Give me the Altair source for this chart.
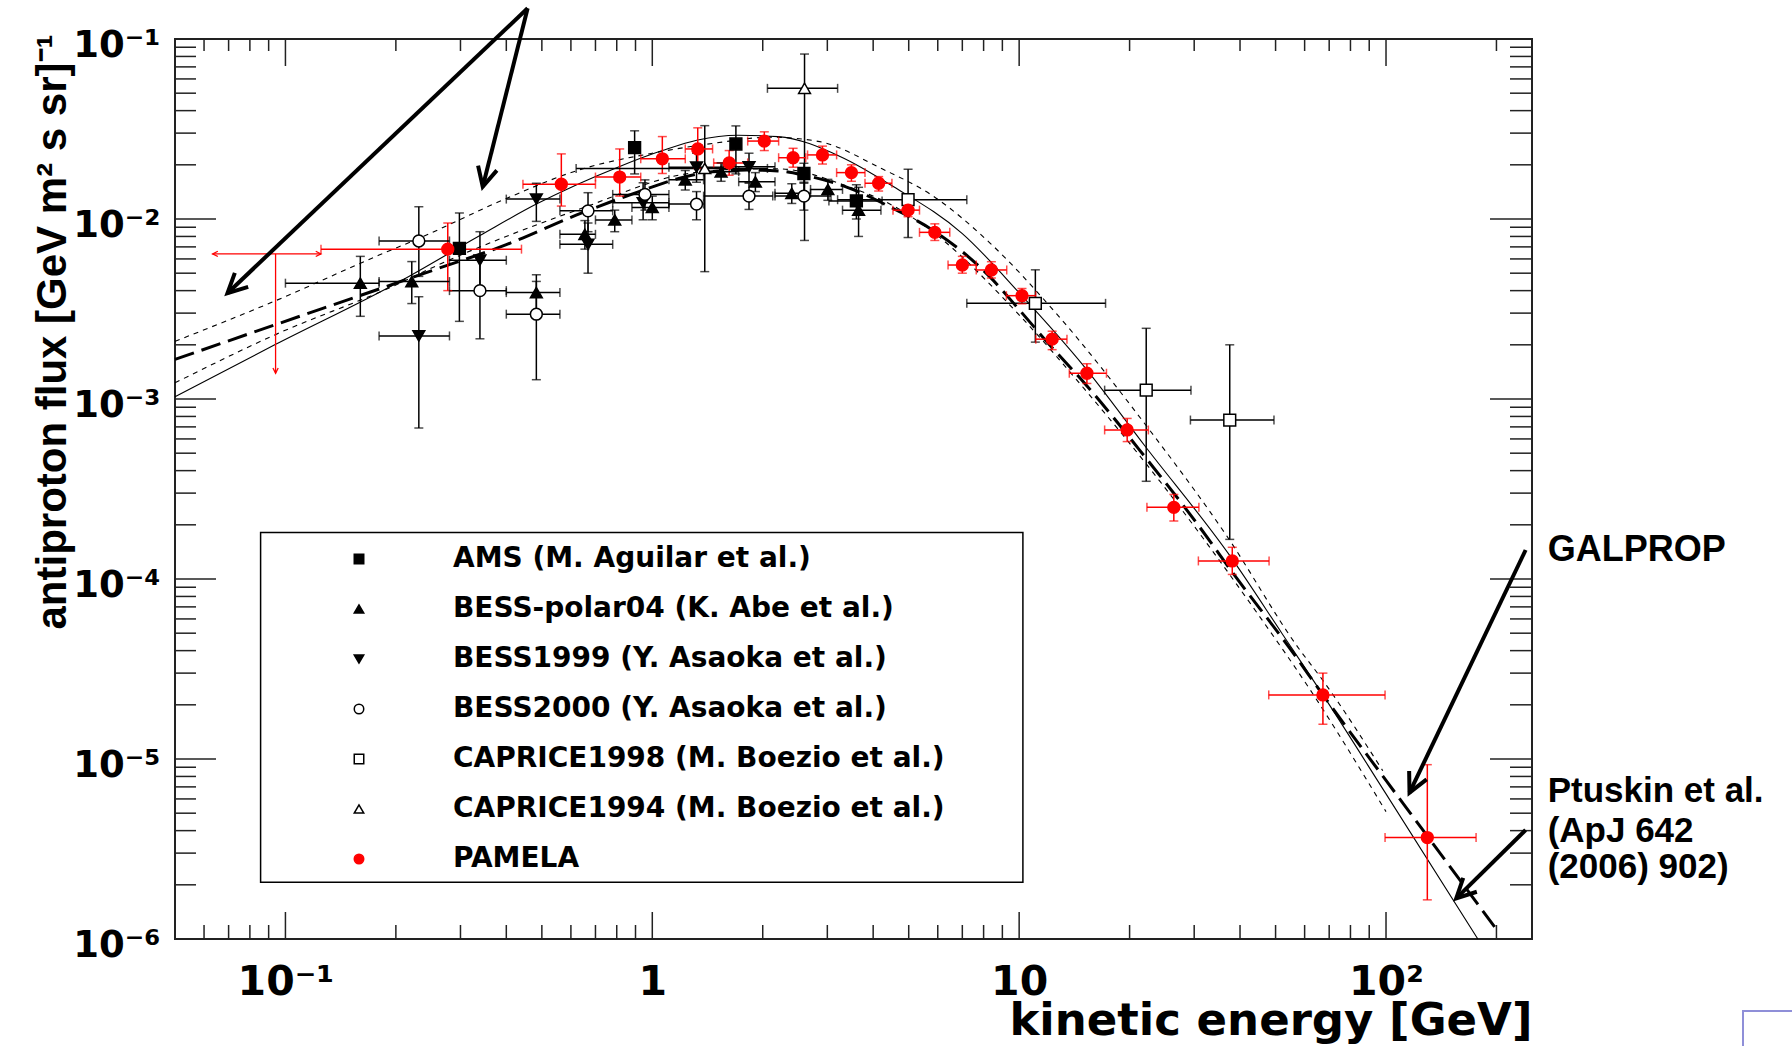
import math
import altair as alt
import pandas as pd

W, H = 1357, 900
E_DOMAIN = [0.05, 250]
F_DOMAIN = [1e-6, 1e-1]

# ---------------- data series ----------------
SERIES = ["AMS (M. Aguilar et al.)", "BESS-polar04 (K. Abe et al.)", "BESS1999 (Y. Asaoka et al.)",
          "BESS2000 (Y. Asaoka et al.)", "CAPRICE1998 (M. Boezio et al.)", "CAPRICE1994 (M. Boezio et al.)",
          "PAMELA"]
SHAPES = ["square", "triangle-up", "triangle-down", "circle", "square", "triangle-up", "circle"]
FILLS = ["black", "black", "black", "white", "white", "white", "#ff0000"]
STROKES = ["black", "black", "black", "black", "black", "black", "#ff0000"]

AMS_E = [0.298, 0.895, 1.69, 2.59, 3.6]
AMS_F = [0.00687, 0.0249, 0.0261, 0.0179, 0.0126]
AMS_FLO = [0.0027, 0.0178, 0.0178, 0.0158, 0.0100]
AMS_FHI = [0.0108, 0.0309, 0.0329, 0.0204, 0.0155]
AMS_ELO = [0.298, 0.895, 1.69, 2.59, 3.03]
AMS_EHI = [0.298, 0.895, 1.69, 2.59, 4.23]

BP04_E = [0.160, 0.221, 0.483, 0.655, 0.79, 1.0, 1.23, 1.54, 1.91, 2.40, 3.01, 3.65]
BP04_F = [0.0044, 0.00449, 0.0039, 0.00822, 0.00988, 0.0116, 0.0165, 0.0183, 0.0161, 0.0139, 0.0146, 0.0112]
BP04_FLO = [0.00288, 0.00339, 0.0031, 0.0068, 0.0085, 0.0099, 0.0145, 0.0162, 0.0142, 0.0122, 0.0127, 0.0080]
BP04_FHI = [0.0062, 0.0058, 0.0049, 0.0098, 0.0112, 0.0134, 0.0186, 0.0205, 0.0181, 0.0157, 0.0166, 0.0150]
BP04_ELO = [0.10, 0.18, 0.40, 0.56, 0.70, 0.88, 1.11, 1.38, 1.72, 2.16, 2.70, 3.30]
BP04_EHI = [0.18, 0.28, 0.56, 0.70, 0.88, 1.11, 1.38, 1.72, 2.16, 2.70, 3.30, 4.20]

B99_E = [0.231, 0.339, 0.483, 0.668, 0.944, 1.32, 1.835]
B99_F = [0.00224, 0.0059, 0.0129, 0.00723, 0.0123, 0.0194, 0.0195]
B99_FLO = [0.00069, 0.0041, 0.0097, 0.0050, 0.0099, 0.0160, 0.0160]
B99_FHI = [0.0037, 0.0085, 0.0158, 0.0095, 0.0159, 0.0232, 0.0232]
B99_ELO = [0.18, 0.28, 0.40, 0.56, 0.78, 1.11, 1.56]
B99_EHI = [0.28, 0.40, 0.56, 0.78, 1.11, 1.56, 2.16]

B00_E = [0.231, 0.339, 0.483, 0.668, 0.955, 1.32, 1.835, 2.59]
B00_F = [0.00755, 0.0040, 0.00296, 0.0111, 0.0137, 0.0121, 0.0134, 0.0134]
B00_FLO = [0.0048, 0.00216, 0.00128, 0.0085, 0.0112, 0.0099, 0.0113, 0.0112]
B00_FHI = [0.0117, 0.0060, 0.0045, 0.0140, 0.0165, 0.0142, 0.0158, 0.0160]
B00_ELO = [0.18, 0.28, 0.40, 0.56, 0.78, 1.11, 1.38, 2.16]
B00_EHI = [0.28, 0.40, 0.56, 0.78, 1.11, 1.38, 2.13, 3.07]

C98_E = [4.98, 11.07, 22.2, 37.5]
C98_F = [0.0128, 0.0034, 0.00112, 0.000764]
C98_FLO = [0.00789, 0.00207, 0.000349, 0.000166]
C98_FHI = [0.0189, 0.00522, 0.00247, 0.0020]
C98_ELO = [3.2, 7.2, 17.1, 29.3]
C98_EHI = [7.2, 17.2, 29.4, 49.5]

C94_E = [1.39, 2.6]
C94_F = [0.0191, 0.0532]
C94_FLO = [0.0051, 0.0076]
C94_FHI = [0.033, 0.0825]
C94_ELO = [0.62, 2.06]
C94_EHI = [2.06, 3.2]

PAM_E = [0.277, 0.565, 0.815, 1.065, 1.33, 1.62, 2.02, 2.42, 2.91, 3.49, 4.14, 4.98, 5.89, 7.0, 8.40,
         10.18, 12.3, 15.3, 19.7, 26.4, 38.1, 67.3, 129.6]
PAM_F = [0.0068, 0.0156, 0.0171, 0.0216, 0.0245, 0.0205, 0.0271, 0.0219, 0.0227, 0.0181, 0.0158, 0.0112,
         0.00843, 0.00555, 0.00521, 0.00375, 0.00215, 0.00139, 0.000673, 0.00025, 0.000126, 2.27e-5, 3.66e-6]
PAM_FLO = [0.0040, 0.0118, 0.0134, 0.0179, 0.0191, 0.0175, 0.0240, 0.0194, 0.0202, 0.0162, 0.0143, 0.0103,
           0.0076, 0.0050, 0.00470, 0.00338, 0.00188, 0.00122, 0.00058, 0.00021, 0.000106, 1.56e-5, 1.65e-6]
PAM_FHI = [0.0095, 0.0230, 0.0245, 0.0287, 0.0321, 0.0240, 0.0305, 0.0247, 0.0254, 0.0200, 0.0172, 0.0121,
           0.0094, 0.0062, 0.00579, 0.00411, 0.00238, 0.00157, 0.00078, 0.000295, 0.000150, 3.0e-5, 9.3e-6]
PAM_ELO = [0.125, 0.444, 0.70, 0.93, 1.23, 1.47, 1.82, 2.21, 2.65, 3.18, 3.8, 4.53, 5.35, 6.4, 7.64,
           9.23, 11.1, 13.7, 17.1, 22.3, 30.8, 47.9, 99.4]
PAM_EHI = [0.44, 0.70, 0.93, 1.23, 1.46, 1.82, 2.21, 2.62, 3.18, 3.8, 4.5, 5.35, 6.47, 7.64, 9.25,
           11.1, 13.5, 17.3, 22.5, 30.9, 48.0, 99.4, 176.0]

# PAMELA upper limit
UL_E = [0.094]
UL_F = [0.0064]
UL_ELO = [0.0633]
UL_EHI = [0.125]
UL_FMIN = [0.00139]

# model curves
SOLID_E = [0.05, 0.0935, 0.205, 0.339, 0.483, 0.815, 1.065, 1.33, 1.71, 2.2, 3.26, 4.55, 7.0, 10.05, 15.1,
           22.0, 37.9, 52.0, 67.3, 100.0, 178.0]
SOLID_F = [1.03e-3, 2.0e-3, 4.5e-3, 8.1e-3, 1.21e-2, 1.96e-2, 2.4e-2, 2.75e-2, 2.92e-2, 2.87e-2, 2.22e-2,
           1.51e-2, 8.3e-3, 3.85e-3, 1.5e-3, 5.5e-4, 1.31e-4, 5.0e-5, 2.27e-5, 6.4e-6, 1.0e-6]
DASH_E = [0.05, 0.0935, 0.2, 0.253, 0.40, 0.62, 0.92, 1.18, 1.46, 1.81, 2.2, 2.6, 3.4, 4.55, 5.8, 8.3, 10.05,
          12.0, 15.1, 21.8, 30.5, 38.9, 54.3, 67.3, 100.0, 130.0, 202.0]
DASH_F = [1.66e-3, 2.58e-3, 4.4e-3, 5.2e-3, 7.2e-3, 1.05e-2, 1.42e-2, 1.68e-2, 1.83e-2, 1.87e-2, 1.85e-2,
          1.75e-2, 1.5e-2, 1.14e-2, 8.7e-3, 4.8e-3, 3.1e-3, 2.04e-3, 1.22e-3, 4.9e-4, 2.04e-4, 1.03e-4,
          4.2e-5, 2.27e-5, 7.6e-6, 3.7e-6, 1.1e-6]
UPDOT_E = [0.05, 0.0935, 0.18, 0.231, 0.40, 0.63, 1.0, 1.5, 2.1, 2.83, 4.23, 5.8, 8.3, 12.6, 22.7, 36.7,
           57.4, 67.3, 98.0]
UPDOT_F = [2.09e-3, 3.5e-3, 6.3e-3, 7.8e-3, 1.3e-2, 1.87e-2, 2.32e-2, 2.65e-2, 2.85e-2, 2.7e-2, 1.9e-2,
           1.35e-2, 7.4e-3, 3.0e-3, 6.7e-4, 1.75e-4, 4.2e-5, 2.73e-5, 8.6e-6]
LODOT_E = [0.05, 0.0935, 0.2, 0.253, 0.66, 1.18, 1.6, 2.2, 3.4, 4.55, 5.8, 10.05, 15.1, 24.3, 44.7, 61.5,
           100.0]
LODOT_F = [1.23e-3, 2.27e-3, 4.3e-3, 5.4e-3, 1.17e-2, 1.75e-2, 1.88e-2, 1.9e-2, 1.52e-2, 1.18e-2, 8.5e-3,
           2.9e-3, 1.13e-3, 3.45e-4, 6.4e-5, 2.5e-5, 5.1e-6]

# annotations (data units)
ARROW_E0 = [0.4573, 0.4573, 240.2, 240.2]
ARROW_F0 = [0.1481, 0.1481, 1.449e-4, 4.03e-6]
ARROW_E1 = [0.0695, 0.345, 115.9, 155.4]
ARROW_F1 = [3.87e-3, 0.0151, 6.5e-6, 1.68e-6]
ANN_TEXT = ["GALPROP", "Ptuskin et al.", "(ApJ 642", "(2006) 902)"]
ANN_E = [275.8, 275.8, 275.8, 275.8]
ANN_F = [1.26e-4, 5.8e-6, 3.47e-6, 2.18e-6]
ANN_SIZE = [36, 35, 35, 35]

# axis tick positions
Y_MAJOR = [1e-6, 1e-5, 1e-4, 1e-3, 1e-2, 1e-1]
Y_MINOR = [m * 10.0 ** k for k in range(-6, -1) for m in range(2, 10)]
X_MAJOR = [0.1, 1.0, 10.0, 100.0]
X_MINOR = [m * 10.0 ** k for k in range(-2, 3) for m in range(2, 10) if 0.051 < m * 10.0 ** k < 249]

# ---------------- tables ----------------
rows = []
def add(name, E, F, FLO, FHI, ELO, EHI, col):
    for i in range(len(E)):
        rows.append(dict(series=name, E=E[i], F=F[i], Flo=FLO[i], Fhi=FHI[i], Elo=ELO[i], Ehi=EHI[i], col=col))

add(SERIES[0], AMS_E, AMS_F, AMS_FLO, AMS_FHI, AMS_ELO, AMS_EHI, "black")
add(SERIES[1], BP04_E, BP04_F, BP04_FLO, BP04_FHI, BP04_ELO, BP04_EHI, "black")
add(SERIES[2], B99_E, B99_F, B99_FLO, B99_FHI, B99_ELO, B99_EHI, "black")
add(SERIES[3], B00_E, B00_F, B00_FLO, B00_FHI, B00_ELO, B00_EHI, "black")
add(SERIES[4], C98_E, C98_F, C98_FLO, C98_FHI, C98_ELO, C98_EHI, "black")
add(SERIES[5], C94_E, C94_F, C94_FLO, C94_FHI, C94_ELO, C94_EHI, "black")
add(SERIES[6], PAM_E, PAM_F, PAM_FLO, PAM_FHI, PAM_ELO, PAM_EHI, "#ff0000")
pts = pd.DataFrame(rows)
hb = pts[pts["Elo"] < pts["Ehi"]]

def px(e):
    return (math.log10(e) - math.log10(E_DOMAIN[0])) / (math.log10(E_DOMAIN[1]) - math.log10(E_DOMAIN[0])) * W

def py(f):
    return (math.log10(F_DOMAIN[1]) - math.log10(f)) / (math.log10(F_DOMAIN[1]) - math.log10(F_DOMAIN[0])) * H

def head_angle(e0, f0, e1, f1):
    dx = px(e1) - px(e0)
    dy = py(f1) - py(f0)
    return math.degrees(math.atan2(dx, -dy)) % 360

arrows = pd.DataFrame(dict(E0=ARROW_E0, F0=ARROW_F0, E1=ARROW_E1, F1=ARROW_F1))
heads = pd.DataFrame(dict(E=ARROW_E1, F=ARROW_F1,
                          ang=[head_angle(a, b, c, d) for a, b, c, d in zip(ARROW_E0, ARROW_F0, ARROW_E1, ARROW_F1)]))
ul = pd.DataFrame(dict(E=UL_E, F=UL_F, Elo=UL_ELO, Ehi=UL_EHI, Fmin=UL_FMIN))
ul_heads = pd.DataFrame(dict(E=[UL_ELO[0], UL_EHI[0], UL_E[0]], F=[UL_F[0], UL_F[0], UL_FMIN[0]], ang=[270, 90, 180]))
ann = pd.DataFrame(dict(text=ANN_TEXT, E=ANN_E, F=ANN_F, fs=ANN_SIZE))

# ---------------- scales / axes ----------------
xscale = alt.Scale(type="log", domain=E_DOMAIN, nice=False)
yscale = alt.Scale(type="log", domain=F_DOMAIN, nice=False)

xaxis = alt.Axis(values=X_MAJOR,
                 labelExpr="['10\u207b\u00b9','1','10','10\u00b2'][round(log(datum.value)/LN10)+1]",
                 ticks=False, domain=False, grid=False, labelFlush=False, labelOverlap=False,
                 labelFont="DejaVu Sans", labelFontSize=41, labelFontWeight="bold", labelColor="black",
                 labelPadding=23,
                 title="kinetic energy [GeV]", titleFont="DejaVu Sans", titleFontSize=45, titleFontWeight="bold",
                 titleColor="black", titleAlign="right", titleBaseline="alphabetic", titleX=W, titleY=95)
yaxis = alt.Axis(values=Y_MAJOR,
                 labelExpr="['10\u207b\u2076','10\u207b\u2075','10\u207b\u2074','10\u207b\u00b3','10\u207b\u00b2','10\u207b\u00b9'][round(log(datum.value)/LN10)+6]",
                 ticks=False, domain=False, grid=False, labelOverlap=False,
                 labelFont="DejaVu Sans", labelFontSize=37, labelFontWeight="bold", labelColor="black",
                 labelPadding=15, labelOffset=6,
                 title="antiproton flux [GeV m\u00b2 s sr]\u207b\u00b9", titleFont="Liberation Sans",
                 titleFontSize=42, titleFontWeight="bold", titleColor="black", titleAngle=270,
                 titleAlign="right", titleBaseline="alphabetic", titleX=-110, titleY=-5)

def X(f):
    return alt.X(f, type="quantitative", scale=xscale, axis=xaxis)

def Y(f):
    return alt.Y(f, type="quantitative", scale=yscale, axis=yaxis)

layers = []

# curves
def curve(E, F, **kw):
    return alt.Chart(pd.DataFrame(dict(E=E, F=F))).mark_line(color="black", interpolate="monotone", **kw).encode(
        x=X("E"), y=Y("F"))

layers.append(curve(UPDOT_E, UPDOT_F, strokeWidth=1.1, strokeDash=[5, 5]))
layers.append(curve(LODOT_E, LODOT_F, strokeWidth=1.1, strokeDash=[5, 5]))
layers.append(curve(SOLID_E, SOLID_F, strokeWidth=1.1))
layers.append(curve(DASH_E, DASH_F, strokeWidth=3, strokeDash=[20, 8]))

# error bars
col = alt.Color("col:N", scale=None, legend=None)
layers.append(alt.Chart(pts).mark_rule(strokeWidth=1.5).encode(x=X("E"), y=Y("Flo"), y2="Fhi", color=col))
layers.append(alt.Chart(hb).mark_rule(strokeWidth=1.5).encode(x=X("Elo"), x2="Ehi", y=Y("F"), color=col))
layers.append(alt.Chart(pts).mark_tick(orient="horizontal", size=9, thickness=1.5).encode(x=X("E"), y=Y("Flo"), color=col))
layers.append(alt.Chart(pts).mark_tick(orient="horizontal", size=9, thickness=1.5).encode(x=X("E"), y=Y("Fhi"), color=col))
layers.append(alt.Chart(hb).mark_tick(orient="vertical", size=9, thickness=1.5).encode(x=X("Elo"), y=Y("F"), color=col))
layers.append(alt.Chart(hb).mark_tick(orient="vertical", size=9, thickness=1.5).encode(x=X("Ehi"), y=Y("F"), color=col))

# PAMELA upper limit
VSHAPE = "M -0.5 1 L 0 0 L 0.5 1"
layers.append(alt.Chart(ul).mark_rule(color="#ff0000", strokeWidth=1.3).encode(x=X("Elo"), x2="Ehi", y=Y("F")))
layers.append(alt.Chart(ul).mark_rule(color="#ff0000", strokeWidth=1.3).encode(x=X("E"), y=Y("F"), y2="Fmin"))
layers.append(alt.Chart(ul_heads).mark_point(shape=VSHAPE, filled=False, size=110, color="#ff0000",
                                             strokeWidth=1.3, opacity=1).encode(
    x=X("E"), y=Y("F"), angle=alt.Angle("ang:Q", scale=None)))

# legend frame
dummy = pd.DataFrame({"k": [0]})
layers.append(alt.Chart(dummy).mark_rect(fill="white", stroke="black", strokeWidth=1.5).encode(
    x=alt.value(85.6), x2=alt.value(847.9), y=alt.value(493.6), y2=alt.value(843.3)))

# points with legend
leg = alt.Legend(title=None, orient="none", legendX=170, legendY=506, symbolSize=90, symbolStrokeWidth=1.5,
                 labelFont="DejaVu Sans", labelFontWeight="bold", labelFontSize=28, labelColor="black",
                 labelOffset=80, rowPadding=22, padding=0, labelLimit=1000)
layers.append(alt.Chart(pts).mark_point(filled=True, size=140, strokeWidth=1.5, opacity=1).encode(
    x=X("E"), y=Y("F"),
    shape=alt.Shape("series:N", scale=alt.Scale(domain=SERIES, range=SHAPES), legend=leg),
    fill=alt.Fill("series:N", scale=alt.Scale(domain=SERIES, range=FILLS), legend=leg),
    stroke=alt.Stroke("series:N", scale=alt.Scale(domain=SERIES, range=STROKES), legend=leg)))

# frame ticks (inside)
TC = "#222222"
ymaj = pd.DataFrame({"v": Y_MAJOR})
ymin = pd.DataFrame({"v": Y_MINOR})
xmaj = pd.DataFrame({"v": X_MAJOR})
xmin = pd.DataFrame({"v": X_MINOR})
layers.append(alt.Chart(ymaj).mark_rule(color=TC, strokeWidth=1.5).encode(y=Y("v"), x=alt.value(0), x2=alt.value(41)))
layers.append(alt.Chart(ymin).mark_rule(color=TC, strokeWidth=1.5).encode(y=Y("v"), x=alt.value(0), x2=alt.value(21)))
layers.append(alt.Chart(ymaj).mark_rule(color=TC, strokeWidth=1.5).encode(y=Y("v"), x=alt.value(W - 42), x2=alt.value(W)))
layers.append(alt.Chart(ymin).mark_rule(color=TC, strokeWidth=1.5).encode(y=Y("v"), x=alt.value(W - 22), x2=alt.value(W)))
layers.append(alt.Chart(xmaj).mark_rule(color=TC, strokeWidth=1.5).encode(x=X("v"), y=alt.value(H - 27), y2=alt.value(H)))
layers.append(alt.Chart(xmin).mark_rule(color=TC, strokeWidth=1.5).encode(x=X("v"), y=alt.value(H - 14), y2=alt.value(H)))
layers.append(alt.Chart(xmaj).mark_rule(color=TC, strokeWidth=1.5).encode(x=X("v"), y=alt.value(0), y2=alt.value(27)))
layers.append(alt.Chart(xmin).mark_rule(color=TC, strokeWidth=1.5).encode(x=X("v"), y=alt.value(0), y2=alt.value(12)))

# annotation arrows and texts
layers.append(alt.Chart(arrows).mark_rule(color="black", strokeWidth=4).encode(x=X("E0"), x2="E1", y=Y("F0"), y2="F1"))
layers.append(alt.Chart(heads).mark_point(shape=VSHAPE, filled=False, size=1500, color="black", strokeWidth=4,
                                          opacity=1).encode(x=X("E"), y=Y("F"), angle=alt.Angle("ang:Q", scale=None)))
layers.append(alt.Chart(ann).mark_text(font="Liberation Sans", fontWeight="bold", align="left",
                                       baseline="alphabetic", color="black").encode(
    x=X("E"), y=Y("F"), text="text:N", size=alt.Size("fs:Q", scale=None)))

# slide corner frame (bottom right)
layers.append(alt.Chart(dummy).mark_rect(fill="white", stroke="#8f8fd8", strokeWidth=2).encode(
    x=alt.value(1568), x2=alt.value(1640), y=alt.value(972), y2=alt.value(1030)))

chart = alt.layer(*layers).properties(
    width=W, height=H,
    padding={"left": 175, "top": 39, "right": 260, "bottom": 107},
    autosize=alt.AutoSizeParams(type="none"),
    background="white",
).configure_view(stroke="#222222", strokeWidth=2)

chart.save("out.html", embed_options={"renderer": "svg", "actions": False})
